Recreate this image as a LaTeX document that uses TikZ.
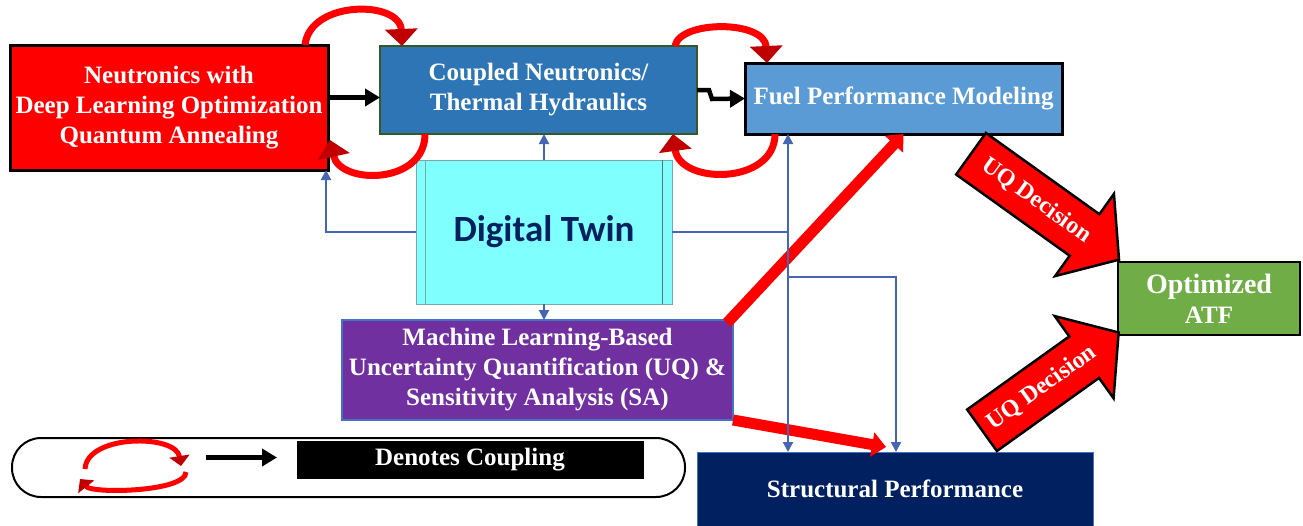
\documentclass[tikz,border=0pt]{standalone}
\usepackage{fontspec}
\setmainfont{Liberation Serif}
\newfontfamily\twinfont{Carlito}
\usetikzlibrary{arrows.meta, shapes.arrows}
\usepackage{xcolor}
\newcommand{\LbNeutron}{Neutronics with\\Deep Learning Optimization\\Quantum Annealing}
\newcommand{\LbCoupled}{Coupled Neutronics/\\Thermal Hydraulics}
\newcommand{\LbFuel}{Fuel Performance Modeling}
\newcommand{\LbTwin}{\twinfont\fontsize{37}{40}\selectfont\bfseries Digital Twin}
\newcommand{\LbUQSA}{Machine Learning-Based\\Uncertainty Quantification (UQ) \&\\Sensitivity Analysis (SA)}
\newcommand{\LbStruct}{Structural Performance}
\newcommand{\LbATF}{\fontsize{28}{35}\selectfont Optimized\\ATF}
\newcommand{\LbDecision}{UQ Decision}
\newcommand{\LbCoupling}{Denotes Coupling}
\definecolor{myred}{rgb}{1,0,0}
\definecolor{darkred}{RGB}{192,0,0}
\definecolor{cnblue}{RGB}{46,117,182}
\definecolor{cnedge}{RGB}{56,87,35}
\definecolor{fpblue}{RGB}{91,155,213}
\definecolor{twincyan}{RGB}{128,255,255}
\definecolor{twinedge}{RGB}{120,170,170}
\definecolor{mlpurple}{RGB}{112,48,160}
\definecolor{edgeblue}{RGB}{68,114,196}
\definecolor{spnavy}{RGB}{0,32,96}
\definecolor{atfgreen}{RGB}{112,173,71}
\definecolor{linkblue}{RGB}{68,102,180}

\begin{document}
\begin{tikzpicture}[x=1pt,y=-1pt,
  box/.style={draw, line width=2pt, text=white, align=center, outer sep=0pt, inner sep=0pt,
    font=\fontsize{25}{30}\selectfont\bfseries},
  link/.style={draw=linkblue, line width=2pt, -{Triangle[length=10pt,width=10pt]}},
  blk/.style={draw=black, line width=4.5pt, -{Triangle[length=15pt,width=17pt]}},
  hot/.style={draw=myred, line width=11pt, -{Triangle[length=14pt,width=24pt]}},
  couple/.style={draw=myred, line width=7pt, -{Triangle[length=17pt,width=32pt,color=darkred]}},
  minicouple/.style={draw=myred, line width=5pt, -{Triangle[length=10pt,width=20pt,color=darkred]}},
  decision/.style={single arrow, draw=black, line width=2.5pt, fill=myred, text=white,
    font=\fontsize{24}{28}\selectfont\bfseries, single arrow head extend=25pt,
    single arrow tip angle=100, inner xsep=4pt, inner ysep=14pt}]
  \useasboundingbox (0,0) rectangle (1303,525);

  \node[box, fill=myred, line width=3pt, minimum width=318pt, minimum height=125pt] (nt) at (169,107.5) {\LbNeutron};
  \node[box, fill=cnblue, draw=cnedge, minimum width=317pt, minimum height=88pt] (cn) at (538.5,90) {\LbCoupled};
  \node[box, fill=fpblue, line width=3pt, minimum width=317pt, minimum height=71pt] (fp) at (903.5,98.5) {\LbFuel};
  \node[box, fill=twincyan, draw=twinedge, line width=1pt, text=spnavy, minimum width=256pt, minimum height=144pt] (dt) at (544,232) {\LbTwin};
  \node[box, fill=mlpurple, draw=edgeblue, minimum width=391pt, minimum height=100pt] (ml) at (537.5,370) {\LbUQSA};
  \node[box, fill=spnavy, draw=edgeblue, line width=1pt, minimum width=396pt, minimum height=74pt] (sp) at (895,489) {\LbStruct};
  \node[box, fill=atfgreen, line width=2.5pt, minimum width=182pt, minimum height=73pt] (atf) at (1209,298.5) {\LbATF};

  % twin box side bars
  \draw[twinedge, line width=1pt] ([xshift=9pt]dt.north west) -- ([xshift=9pt]dt.south west);
  \draw[twinedge!70!black, line width=1pt] ([xshift=-10pt]dt.north east) -- ([xshift=-10pt]dt.south east);

  % legend
  \node[draw, line width=2pt, rounded corners=29pt, minimum width=673pt, minimum height=59pt] (key) at (348.5,467.5) {};
  \node[box, fill=black, line width=0pt, minimum width=346pt, minimum height=37pt] (cpl) at (470,459.5) {\LbCoupling};
  \draw[minicouple] (85,469) .. controls (87,434) and (176,434) .. (181,466);
  \draw[minicouple] (186,472) .. controls (186,492) and (92,494) .. (80,479);
  \draw[blk] ([xshift=-91pt,yshift=2pt]cpl.west) -- ([xshift=-20pt,yshift=2pt]cpl.west);

  % couplings
  \draw[blk] ([yshift=10pt]nt.east) -- ([yshift=10pt]nt.east -| cn.west);
  \draw[blk] (cn.east) -- ++(12,0) -- ++(3,9) -- (fp.west);
  \draw[couple] ([xshift=-23pt]nt.north east) .. controls +(5,-45) and +(-2,-46) .. ([xshift=22pt]cn.north west);
  \draw[couple] ([xshift=45pt]cn.south west) .. controls +(0,51) and +(10,45) .. ([xshift=2pt,yshift=30pt]nt.south east);
  \draw[couple] ([xshift=-22pt]cn.north east) .. controls +(5,-26) and +(-2,-43) .. ([xshift=22pt]fp.north west);
  \draw[couple] ([xshift=30pt]fp.south west) .. controls +(0,51) and +(7,51) .. ([xshift=-24pt]cn.south east);

  % uq outputs
  \draw[hot] ([xshift=-6pt,yshift=-3pt]ml.north east) -- (fp.south);
  \draw[hot] (ml.south east) -- ([xshift=-9pt,yshift=5pt]sp.north);

  % twin links
  \coordinate (jn) at (788,232);
  \coordinate (jb) at (788,277);
  \draw[link] (dt.north) -- (dt.north |- cn.south);
  \draw[link] (dt.south) -- (dt.south |- ml.north);
  \draw[link] (dt.west) -| ([xshift=-2pt]nt.south east);
  \draw[link] (dt.east) -- (jn) -- (jn |- fp.south);
  \draw[link] (jn) -- (jn |- sp.north);
  \draw[link] (jb) -| ([xshift=1pt]sp.north);

  % decisions
  \node[decision, rotate=-35.6, anchor=tail, minimum height=182pt] (uqa) at (970,153) {\LbDecision};
  \node[decision, rotate=35.6, anchor=tail, minimum height=168pt] (uqb) at (981,431) {\LbDecision};
\end{tikzpicture}
\end{document}
